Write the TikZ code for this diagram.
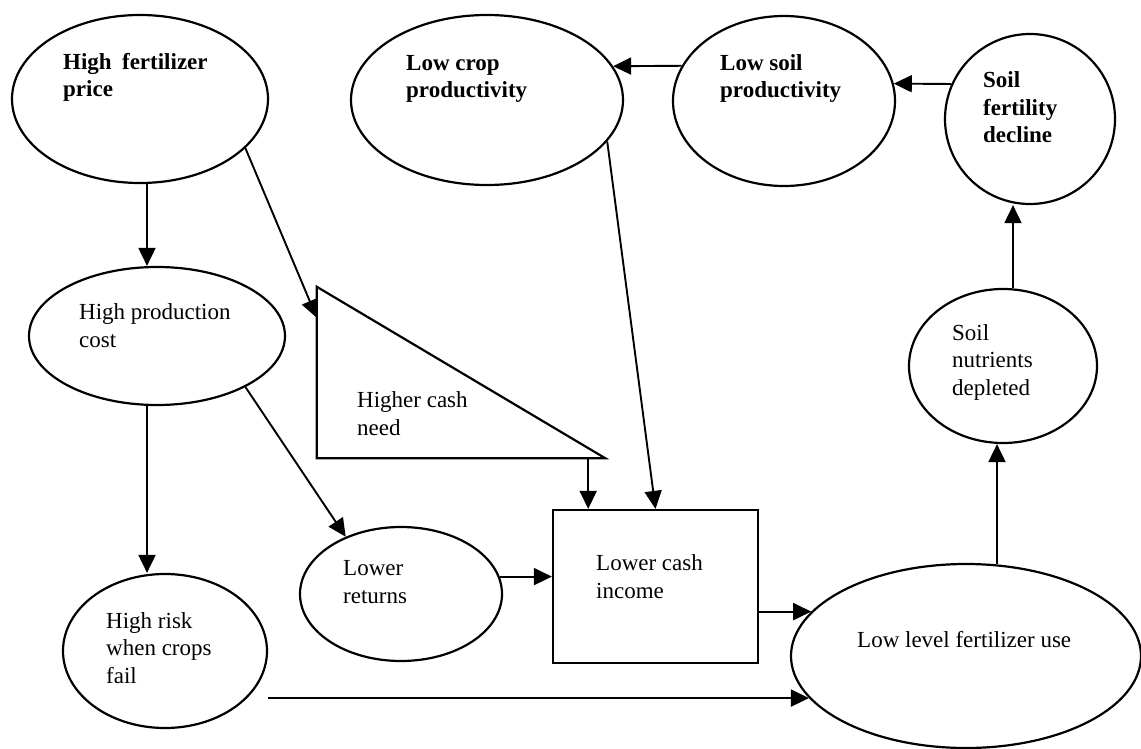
\documentclass[tikz,border=0pt]{standalone}
\usepackage{fontspec}
\setmainfont{Liberation Serif}
\usetikzlibrary{shapes.geometric,arrows.meta,calc}
\begin{document}
\begin{tikzpicture}[x=1pt,y=-1pt,
  shp/.style={draw,line width=2.2pt,inner sep=0pt},
  oval/.style={shp,ellipse},
  lbl/.style={anchor=base west,inner sep=0pt,align=left,font=\fontsize{23}{27.5}\selectfont},
  blbl/.style={lbl,font=\fontsize{23}{27.5}\selectfont\bfseries},
  arr/.style={line width=1.9pt,-{Triangle[length=18pt,width=17pt]}}]
\useasboundingbox (0,0) rectangle (1141,749);
\fill[white] (0,0) rectangle (1141,749);
% shapes
\node[oval,minimum width=256pt,minimum height=168pt] (hfp) at (140,99) {};
\node[oval,minimum width=272pt,minimum height=170pt] (lcp) at (487,100) {};
\node[oval,minimum width=222pt,minimum height=170pt] (lsp) at (784,101) {};
\node[oval,minimum width=170pt,minimum height=170pt] (sfd) at (1030,119) {};
\node[oval,minimum width=256pt,minimum height=138pt] (hpc) at (157,336) {};
\node[oval,minimum width=204pt,minimum height=154pt] (hr) at (165,651) {};
\node[oval,minimum width=202pt,minimum height=134pt] (lr) at (401,594) {};
\node[shp,rectangle,minimum width=205pt,minimum height=153pt] (rect) at (655.5,586.5) {};
\node[oval,minimum width=350pt,minimum height=184pt] (llf) at (966,656) {};
\node[oval,minimum width=188pt,minimum height=154pt] (sn) at (1003,366) {};
\node[inner sep=0pt,minimum width=288pt,minimum height=171pt] (tri) at (461,372.5) {};
\draw[line width=2.2pt,line join=miter] (tri.north west) -- (tri.south west) -- (tri.south east) -- cycle;
% labels (anchored at the baseline of the last line)
\node[blbl] (thfp) at (63,97) {High\hspace{0.45em}fertilizer\\price};
\node[blbl] (tlcp) at (406,98) {Low crop\\productivity};
\node[blbl] (tlsp) at (720,98) {Low soil\\productivity};
\node[blbl] (tsfd) at (983,143) {Soil\\fertility\\decline};
\node[lbl] (thpc) at (79,347) {High production\\cost};
\node[lbl] (thr) at (106,683) {High risk\\when crops\\fail};
\node[lbl] (ttri) at (357,435) {Higher cash\\need};
\node[lbl] (tlr) at (343,603) {Lower\\returns};
\node[lbl] (trect) at (596,598) {Lower cash\\income};
\node[lbl] (tllf) at (857,647) {Low level fertilizer use};
\node[lbl] (tsn) at (952,395) {Soil\\nutrients\\depleted};
% connectors
\draw[arr] ($(hfp.south)+(7,0)$) -- ($(hpc.north)+(-10,0)$);
\draw[arr] ($(hpc.south)+(-10,0)$) -- ($(hr.north)+(-18,0)$);
\draw[arr] (hfp.-25) -- ($(tri.north west)+(0,31)$);
\draw[arr] (hpc.-30) -- (lr.134);
\coordinate (t1) at ($(tri.south east)+(-17,0)$);
\draw[arr] (t1) -- (t1 |- rect.north);
\draw[arr] (lcp.-19) -- (rect.north);
\draw[arr] (lr.10) -- (lr.10 -| rect.west);
\draw[arr] (rect.east |- llf.164) -- (llf.164);
\draw[arr] (hr.east |- llf.195) -- (llf.195);
\draw[arr] ($(llf.north)+(31,1)$) -- ($(sn.south)+(-6,0)$);
\draw[arr] ($(sn.north)+(10,0)$) -- ($(sfd.south)+(-17,0)$);
\draw[arr] (sfd.156) -- (lsp.9);
\draw[arr] (lsp.161) -- (lcp.15);
\end{tikzpicture}
\end{document}
